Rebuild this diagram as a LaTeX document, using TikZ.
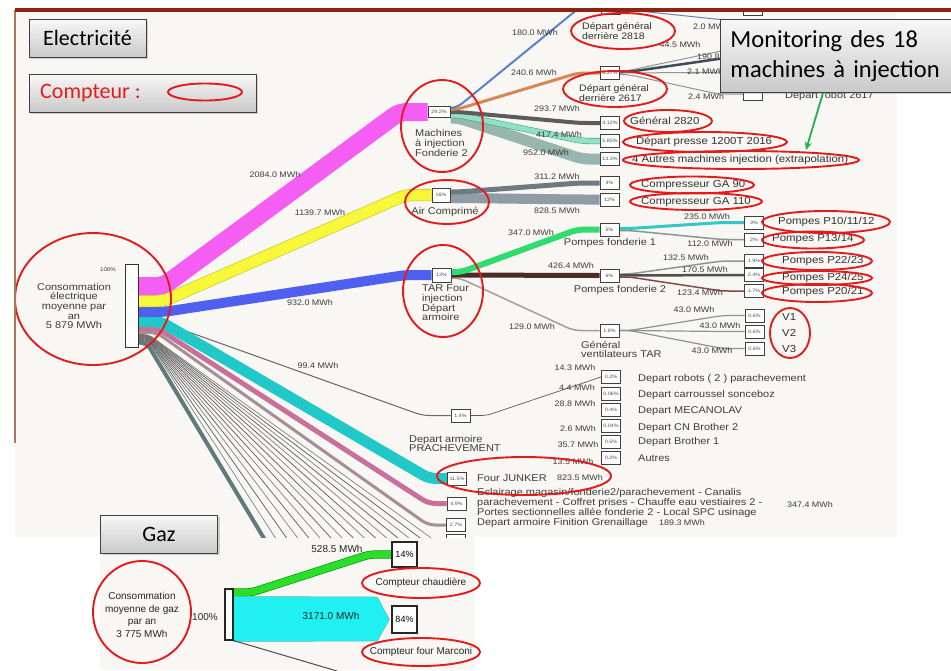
\documentclass[tikz,border=0pt]{standalone}
\usepackage{fontspec}
\setmainfont{Liberation Sans}
\newfontfamily\sankeyfont{Liberation Sans}[FakeStretch=1.12]
\newfontfamily\slidefont{Carlito}
\usetikzlibrary{positioning,calc,arrows.meta,shadows}

\definecolor{imgbg}{HTML}{F8F7F3}
\definecolor{topbar}{HTML}{8C2412}
\definecolor{leftedge}{HTML}{A77B5A}
\definecolor{meterred}{HTML}{E41B1B}
\definecolor{txt}{HTML}{3C3C3C}
\definecolor{magF}{HTML}{F55EF2}
\definecolor{yelF}{HTML}{F8F83A}
\definecolor{yelO}{HTML}{C4C41E}
\definecolor{bluF}{HTML}{5060EE}
\definecolor{cyaF}{HTML}{20C8C8}
\definecolor{pinF}{HTML}{C7709A}
\definecolor{mauF}{HTML}{A58E98}
\definecolor{slaF}{HTML}{5E7A7A}
\definecolor{c2818}{HTML}{5C80D0}
\definecolor{c2617}{HTML}{D88650}
\definecolor{c2820}{HTML}{5C5C5C}
\definecolor{cmint}{HTML}{8EE3C6}
\definecolor{cmintO}{HTML}{4FA58C}
\definecolor{cautres}{HTML}{97B6AE}
\definecolor{cga90}{HTML}{6C7A84}
\definecolor{cga110}{HTML}{8F9CA4}
\definecolor{cgreen}{HTML}{30DC70}
\definecolor{cbrown}{HTML}{4B2B27}
\definecolor{cvent}{HTML}{A99A9D}
\definecolor{cturq}{HTML}{33C8C8}
\definecolor{cgrayl}{HTML}{8E9494}
\definecolor{cdark}{HTML}{4E5050}
\definecolor{credb}{HTML}{8C4545}
\definecolor{cdkslate}{HTML}{3E4A58}
\definecolor{gasgreen}{HTML}{28E028}
\definecolor{gascyan}{HTML}{20F0F0}
\definecolor{arrowgreen}{HTML}{20B04C}

\pgfdeclarelayer{back}
\pgfdeclarelayer{flows}
\pgfsetlayers{back,flows,main}

\tikzset{
  flow/.style={line width=#1pt, rounded corners=7pt},
  oflow/.style n args={3}{draw=#2, double=#3, double distance=#1pt, line width=0.6pt, rounded corners=7pt},
  fan/.style={line width=0.7pt, rounded corners=5pt},
  pbox/.style={draw=black!75, line width=1pt, fill=white, inner sep=0pt, minimum width=19pt,
    minimum height=13pt, text=black!70, font=\sankeyfont\fontsize{4.8}{5}\selectfont},
  mwh/.style={inner sep=0pt, text=txt, font=\sankeyfont\fontsize{8}{8}\selectfont},
  lbl/.style={inner sep=0pt, text=txt, align=left, font=\sankeyfont\fontsize{9.8}{9.6}\selectfont},
  meterlbl/.style={inner sep=0pt, text=black!80, anchor=west, align=left, font=\sankeyfont\fontsize{10.2}{9}\selectfont},
  meter/.style={draw=meterred, line width=1.9pt},
  slidebox/.style={draw=black!75, line width=0.9pt, top color=gray!6, bottom color=gray!42,
    drop shadow={shadow xshift=2pt, shadow yshift=-2pt, opacity=0.35}, inner sep=0pt,
    font=\slidefont\fontsize{22}{26}\selectfont},
  gastxt/.style={inner sep=0pt, text=black!85, font=\fontsize{10}{12.5}\selectfont},
  gpbox/.style={draw=black!85, line width=1.3pt, fill=white, inner sep=0pt, minimum width=25pt,
    minimum height=25pt, font=\fontsize{9}{10}\selectfont}
}

\begin{document}
\begin{tikzpicture}[x=1pt,y=-1pt]
\useasboundingbox (0,0) rectangle (951,670);

\begin{pgfonlayer}{back}
  \fill[white] (0,0) rectangle (951,670);
  \fill[imgbg] (15,10) rectangle (897,537); % electricity picture
  \fill[imgbg] (100,537) rectangle (475,670); % gas picture
\end{pgfonlayer}

% ---- electricity: nodes
\node[draw=black!80, line width=1pt, fill=white, inner sep=0pt, minimum width=13pt, minimum height=83pt] (src) at (131.5,305.5) {};
\node[mwh, font=\sankeyfont\fontsize{5.5}{6}\selectfont] (t100) at (108,270) {100\%};
\node[lbl, align=center] (tsrc) at (74,306) {Consommation\\électrique\\moyenne par\\an\\5 879 MWh};

\node[pbox, minimum width=22pt, minimum height=11pt] (mach) at (439,112) {29.2\%};
\node[pbox, minimum width=18pt, minimum height=14pt] (air) at (441,195) {16\%};
\node[pbox, minimum height=14pt] (tar) at (441.5,275) {13\%};
\begin{scope}
  \clip (15,12) rectangle (897,537);
  \node[pbox] (d2818) at (611,8) {};
  \node[pbox] (b2818) at (753,9) {};
  \node[pbox] (fin2) at (456,541) {};
\end{scope}
\node[pbox] (d2617) at (610,73) {3.37\%};
\node[pbox] (g2820) at (610,123) {4.12\%};
\node[pbox] (presse) at (610,141) {5.85\%};
\node[pbox] (autres) at (610,159) {13.3\%};
\node[pbox] (ga90) at (609.5,183) {4\%};
\node[pbox] (ga110) at (609.5,199.5) {12\%};
\node[pbox] (pf1) at (609.5,229.5) {5\%};
\node[pbox] (pf2) at (609.5,275.5) {6\%};
\node[pbox] (vent) at (609.5,330.5) {1.8\%};
\node[pbox] (robot) at (753,94) {};
\node[pbox] (p1012) at (754,222.5) {3\%};
\node[pbox] (p1314) at (754,239.5) {2\%};
\node[pbox] (p2223) at (754,261) {1.9\%};
\node[pbox] (p2425) at (754,275) {2.4\%};
\node[pbox] (p2021) at (754,291) {1.7\%};
\node[pbox] (v1) at (754.5,315.5) {0.6\%};
\node[pbox] (v2) at (754.5,331.5) {0.6\%};
\node[pbox] (v3) at (754.5,348.5) {0.6\%};
\node[pbox] (arm) at (460.5,415.5) {1.4\%};
\node[pbox] (r1) at (611,377) {0.2\%};
\node[pbox] (r2) at (611,394) {0.06\%};
\node[pbox] (r3) at (611,410) {0.4\%};
\node[pbox] (r4) at (611,426) {0.04\%};
\node[pbox] (r5) at (611,442) {0.5\%};
\node[pbox] (r6) at (611,458) {0.2\%};
\node[pbox] (junker) at (457,478.5) {11.5\%};
\node[pbox] (eclair) at (456.5,503.5) {4.9\%};
\node[pbox] (finition) at (456,525) {2.7\%};

% ---- gas: nodes
\node[draw=black!85, line width=1.1pt, fill=white, inner sep=0pt, minimum width=8pt, minimum height=51pt] (gsrc) at (229,614.5) {};
\node[gpbox] (g14) at (404.5,554.5) {14\%};
\node[gpbox, minimum height=27pt] (g84) at (404.5,619.5) {84\%};

\coordinate (h20) at (745,20);
\coordinate (h445) at (745,46);
\coordinate (h1908) at (745,58);
\coordinate (h21) at (745,72);
\coordinate (slateEnd) at (268,545);
\coordinate (gasEnd) at (337,671);

% ---- electricity: flows
\begin{pgfonlayer}{flows}
\begin{scope}
\clip (15,12) rectangle (897,537);
\foreach \k in {0,...,14}{ % thin feeders going down
  \pgfmathtruncatemacro\shade{50+15*mod(\k,2)}
  \coordinate (fan\k) at ({441-11.5*\k},545);
  \draw[fan, draw=black!\shade] ($(src.north east)+(0,71+0.5*\k)$) -- ++(10,0) -- (fan\k);
}
\draw[flow=4, slaF] ($(src.north east)+(0,79)$) -- ++(8,0) -- (slateEnd);
\draw[flow=3, mauF] ($(src.north east)+(0,69)$) -- ++(18,0) -- ($(finition.west)+(-18,0)$) -- (finition.west);
\draw[flow=5, pinF] ($(src.north east)+(0,65.5)$) -- ++(20,0) -- ($(eclair.west)+(-18,0)$) -- (eclair.west);
\draw[flow=1, black!60] ($(src.north east)+(0,57)$) -- ++(18,0) -- ($(arm.west)+(-28,0)$) -- (arm.west);
\draw[flow=11, cyaF] ($(src.north east)+(0,58)$) -- ++(22,0) -- ($(junker.west)+(-18,0)$) -- (junker.west);
\draw[flow=10, bluF] ($(src.north east)+(0,48.5)$) -- ++(25,0) -- ($(tar.west)+(-26,0)$) -- (tar.west);
\draw[oflow={11}{yelO}{yelF}] ($(src.north east)+(0,37.5)$) -- ++(25,0) -- ($(air.west)+(-26,0)$) -- (air.west);
\draw[flow=18, magF] ($(src.north east)+(0,22.5)$) -- ++(25,0) -- ($(mach.west)+(-28,0)$) -- (mach.west);

% machines a injection
\draw[flow=11, cautres] ($(mach.east)+(0,6)$) -- ++(8,0) -- ($(autres.west)+(-18,0)$) -- (autres.west);
\draw[oflow={5}{cmintO}{cmint}] ($(mach.east)+(0,3)$) -- ++(8,0) -- ($(presse.west)+(-18,0)$) -- (presse.west);
\draw[flow=4, c2820] (mach.east) -- ++(8,0) -- ($(g2820.west)+(-20,0)$) -- (g2820.west);
\draw[flow=3, c2617] ($(mach.east)+(0,-2.5)$) -- ++(6,0) -- ($(d2617.west)+(-22,0)$) -- (d2617.west);
\draw[flow=2, c2818] ($(mach.east)+(0,-4)$) -- ++(6,0) -- ($(d2818.west)+(-22,0)$) -- (d2818.west);
\draw[flow=1, c2818!50!gray] ($(d2818.east)+(0,2)$) -- ++(8,0) -- ($(h20)+(-20,0)$) -- (h20);
\draw[flow=1, cgrayl] ($(d2617.east)+(0,-2)$) -- ++(6,0) -- (h445);
\draw[flow=2.5, cdkslate] ($(d2617.east)+(0,-1)$) -- ++(8,0) -- ($(h1908)+(-20,0)$) -- (h1908);
\draw[flow=1, cgrayl] (d2617.east) -- ++(8,0) -- (h21);
\draw[flow=1, cgrayl] ($(d2617.east)+(0,1.5)$) -- ++(8,0) -- ($(robot.west)+(-25,0)$) -- (robot.west);

% air comprime
\draw[flow=10, cga110] ($(air.east)+(0,3)$) -- ++(8,0) -- ($(ga110.west)+(-20,0)$) -- (ga110.west);
\draw[flow=5, cga90] ($(air.east)+(0,-3)$) -- ++(8,0) -- ($(ga90.west)+(-20,0)$) -- (ga90.west);

% TAR
\draw[flow=1.5, cvent] ($(tar.east)+(0,3)$) -- ++(8,0) -- ($(vent.west)+(-26,0)$) -- (vent.west);
\draw[flow=5, cbrown] (tar.east) -- (pf2.west);
\draw[flow=6, cgreen] ($(tar.east)+(0,-3)$) -- ++(10,0) -- ($(pf1.west)+(-22,0)$) -- (pf1.west);
\draw[flow=3, cturq] ($(pf1.east)+(0,-1)$) -- ++(10,0) -- ($(p1012.west)+(-22,0)$) -- (p1012.west);
\draw[flow=1.5, cgrayl] ($(pf1.east)+(0,1)$) -- ++(10,0) -- ($(p1314.west)+(-22,0)$) -- (p1314.west);
\draw[flow=1.5, cgrayl] ($(pf2.east)+(0,-1.5)$) -- ++(10,0) -- ($(p2223.west)+(-22,0)$) -- (p2223.west);
\draw[flow=2.5, cdark] (pf2.east) -- (p2425.west);
\draw[flow=1.5, credb] ($(pf2.east)+(0,1.5)$) -- ++(10,0) -- ($(p2021.west)+(-22,0)$) -- (p2021.west);
\foreach \v in {v1,v2,v3} % ventilateurs
  \draw[flow=1.2, cgrayl] (vent.east) -- ++(10,0) -- ($(\v.west)+(-22,0)$) -- (\v.west);
\foreach \r in {r1,...,r6} % depart armoire
  \draw[fan, black!65] (arm.east) -- ++(16,0) -- (\r.west);
\end{scope}

% ---- gas flows
\draw[oflow={7}{green!55!black}{gasgreen}, rounded corners=6pt] ($(gsrc.north east)+(0,4)$) -- ++(18,0) -- ($(g14.west)+(-22,0)$) -- (g14.west);
\filldraw[fill=gascyan, draw=teal!60, line width=0.5pt] ($(gsrc.north east)+(0,8)$) -- ($(g84.west)+(-14,-22.5)$)
  -- ($(g84.west)+(-2,0)$) -- ($(g84.west)+(-14,21.5)$) -- ($(gsrc.south east)+(0,1)$) -- cycle;
\draw[line width=1pt, black!70] (gsrc.south east) -- (gasEnd);
\end{pgfonlayer}

% ---- labels
\node[mwh] (l2084) at (275,175) {2084.0 MWh};
\node[mwh] (l1139) at (320,213) {1139.7 MWh};
\node[mwh] (l932) at (310,303) {932.0 MWh};
\node[mwh] (l994) at (318,366) {99.4 MWh};
\node[mwh] (l180) at (535,33) {180.0 MWh};
\node[mwh] (l2406) at (534,73) {240.6 MWh};
\node[mwh] (l2937) at (557,109) {293.7 MWh};
\node[mwh] (l4174) at (559,135) {417.4 MWh};
\node[mwh] (l952) at (546,153) {952.0 MWh};
\node[mwh] (l3112) at (557,177) {311.2 MWh};
\node[mwh] (l8285) at (557,211) {828.5 MWh};
\node[mwh] (l347) at (531,233) {347.0 MWh};
\node[mwh] (l4264) at (571,266) {426.4 MWh};
\node[mwh] (l129) at (532,327) {129.0 MWh};
\node[mwh] (l235) at (707,217) {235.0 MWh};
\node[mwh] (l112) at (710,244) {112.0 MWh};
\node[mwh] (l1325) at (686,258) {132.5 MWh};
\node[mwh] (l1705) at (705,270) {170.5 MWh};
\node[mwh] (l1234) at (700,293) {123.4 MWh};
\node[mwh] (l43a) at (694,310) {43.0 MWh};
\node[mwh] (l43b) at (720,326) {43.0 MWh};
\node[mwh] (l43c) at (712,351) {43.0 MWh};
\node[mwh] (l143) at (575,368) {14.3 MWh};
\node[mwh] (l44) at (577,388) {4.4 MWh};
\node[mwh] (l288) at (575,404) {28.8 MWh};
\node[mwh] (l26) at (578,429) {2.6 MWh};
\node[mwh] (l357) at (578,445) {35.7 MWh};
\node[mwh] (l135) at (573,462) {13.5 MWh};
\node[mwh] (l8235) at (580,478) {823.5 MWh};
\node[mwh] (l3474) at (810,505) {347.4 MWh};
\node[mwh] (l1893) at (682,523) {189.3 MWh};
\node[mwh, anchor=west] (l20) at (693,27) {2.0 MWh};
\node[mwh] (l445) at (680,45) {44.5 MWh};
\node[mwh, anchor=west] (l1908) at (697,57) {190.8 MWh};
\node[mwh, anchor=west] (l21) at (687,72) {2.1 MWh};
\node[mwh, anchor=west] (l24) at (688,97) {2.4 MWh};

\node[lbl, anchor=west] (tmach) at (415,143) {Machines\\à injection\\Fonderie 2};
\node[lbl] (tair) at (445,212) {Air Comprimé};
\node[lbl, anchor=west] (ttar) at (422,303) {TAR Four\\injection\\Départ\\armoire};
\node[lbl] (tpf1) at (610,243) {Pompes fonderie 1};
\node[lbl] (tpf2) at (620,290) {Pompes fonderie 2};
\node[lbl, anchor=west] (tvent) at (581,349.5) {Général\\ventilateurs TAR};
\node[lbl, anchor=west] (tarm) at (409,443.5) {Depart armoire\\PRACHEVEMENT};
\node[lbl, anchor=west] (tjunk) at (477,478) {Four JUNKER};
\node[lbl, anchor=west] (tecl) at (477,503) {Eclairage magasin/fonderie2/parachevement - Canalis\\parachevement - Coffret prises - Chauffe eau vestiaires 2 -\\Portes sectionnelles allée fonderie 2 - Local SPC usinage};
\node[lbl, anchor=west] (tfin) at (477,523) {Depart armoire Finition Grenaillage};
\node[lbl, anchor=west] (tr1) at (638,379) {Depart robots ( 2 ) parachevement};
\node[lbl, anchor=west] (tr2) at (638,395) {Depart carroussel sonceboz};
\node[lbl, anchor=west] (tr3) at (638,411) {Depart MECANOLAV};
\node[lbl, anchor=west] (tr4) at (638,428) {Depart CN Brother 2};
\node[lbl, anchor=west] (tr5) at (638,442) {Depart Brother 1};
\node[lbl, anchor=west] (tr6) at (638,458) {Autres};
\node[lbl, anchor=west] (trobot) at (785,96) {Départ robot 2617};

% metered outputs
\node[meterlbl, font=\sankeyfont\fontsize{9.4}{8.8}\selectfont] (t2818) at (582,31) {Départ général\\derrière 2818};
\node[meterlbl, font=\sankeyfont\fontsize{9.4}{8.8}\selectfont] (t2617) at (579,93.5) {Départ général\\derrière 2617};
\node[meterlbl] (t2820) at (630,121) {Général 2820};
\node[meterlbl] (tpresse) at (636,142) {Départ presse 1200T 2016};
\node[meterlbl] (tautres) at (632,160) {4 Autres machines injection (extrapolation)};
\node[meterlbl] (tga90) at (641,185) {Compresseur GA 90};
\node[meterlbl] (tga110) at (641,202) {Compresseur GA 110};
\node[meterlbl] (tp1012) at (778,222) {Pompes P10/11/12};
\node[meterlbl] (tp1314) at (772,239) {Pompes P13/14};
\node[meterlbl] (tp2223) at (782,261) {Pompes P22/23};
\node[meterlbl] (tp2425) at (782,278) {Pompes P24/25};
\node[meterlbl] (tp2021) at (782,292) {Pompes P20/21};
\node[meterlbl] (tv1) at (782,317) {V1};
\node[meterlbl] (tv2) at (782,333) {V2};
\node[meterlbl] (tv3) at (782,349) {V3};

\draw[meter] (93,299) ellipse [x radius=78pt, y radius=66pt];
\draw[meter] (442,126) ellipse [x radius=41pt, y radius=46pt];
\draw[meter] (447,202) ellipse [x radius=42pt, y radius=22pt];
\draw[meter] (443,291) ellipse [x radius=40pt, y radius=46pt];
\draw[meter] (623,31) ellipse [x radius=52pt, y radius=18pt];
\draw[meter] (615,89) ellipse [x radius=52pt, y radius=18pt];
\draw[meter] (668,121) ellipse [x radius=44pt, y radius=11pt];
\draw[meter] (705,142) ellipse [x radius=82pt, y radius=10pt];
\draw[meter] (741,160) ellipse [x radius=118pt, y radius=9pt];
\draw[meter] (692,185) ellipse [x radius=62pt, y radius=8.5pt];
\draw[meter] (696,201.5) ellipse [x radius=66pt, y radius=8.5pt];
\draw[meter] (826,222) ellipse [x radius=64pt, y radius=11pt];
\draw[meter] (813,240) ellipse [x radius=51pt, y radius=8.5pt];
\draw[meter] (817,261) ellipse [x radius=55pt, y radius=9pt];
\draw[meter] (817,278) ellipse [x radius=55pt, y radius=7pt];
\draw[meter] (817,293) ellipse [x radius=55pt, y radius=9pt];
\draw[meter] (790,333) ellipse [x radius=20pt, y radius=25pt];
\draw[meter] (524,476) ellipse [x radius=87pt, y radius=19pt];

% ---- gas labels
\node[gastxt, align=center] (tgas) at (142,615) {Consommation\\moyenne de gaz\\par an\\3 775 MWh};
\node[gastxt] (g100) at (205,617) {100\%};
\node[gastxt] (g528) at (337,549) {528.5 MWh};
\node[gastxt] (g3171) at (331,616) {3171.0 MWh};
\node[gastxt] (gchaud) at (421,583) {Compteur chaudière};
\node[gastxt] (gmarc) at (421,652) {Compteur four Marconi};
\draw[meter] (142,612) ellipse [x radius=49pt, y radius=51pt];
\draw[meter] (421,583) ellipse [x radius=59pt, y radius=15pt];
\draw[meter] (421,652) ellipse [x radius=59pt, y radius=14pt];

% ---- slide frame and captions
\draw[leftedge, line width=1.2pt] (15,10) -- (15,443);
\draw[topbar, line width=3.5pt] (15,10) -- (951,10);
\node[slidebox, minimum width=117pt, minimum height=38pt] (elec) at (87.5,38) {Electricité};
\node[slidebox, minimum width=227pt, minimum height=38pt] (cpt) at (142.5,93) {};
\node[inner sep=0pt, anchor=west, text=meterred, font=\slidefont\fontsize{22}{26}\selectfont] (cpttxt) at (40,93) {Compteur :};
\draw[meter] (205,92) ellipse [x radius=37pt, y radius=8.5pt];
\node[slidebox, minimum width=117pt, minimum height=38pt] (gaz) at (159,534) {Gaz};
\node[slidebox, anchor=north west, minimum width=240pt, minimum height=73pt, inner xsep=10pt, text width=222pt,
  align=left, font=\slidefont\fontsize{24.5}{30}\selectfont] (mon) at (720,19) {Monitoring des 18\\machines à injection};
\coordinate (autresTop) at (806,150);
\draw[-{Stealth[length=8pt,width=7pt]}, arrowgreen, line width=1.8pt] ($(mon.south west)+(103,0)$) -- (autresTop);
\end{tikzpicture}
\end{document}
